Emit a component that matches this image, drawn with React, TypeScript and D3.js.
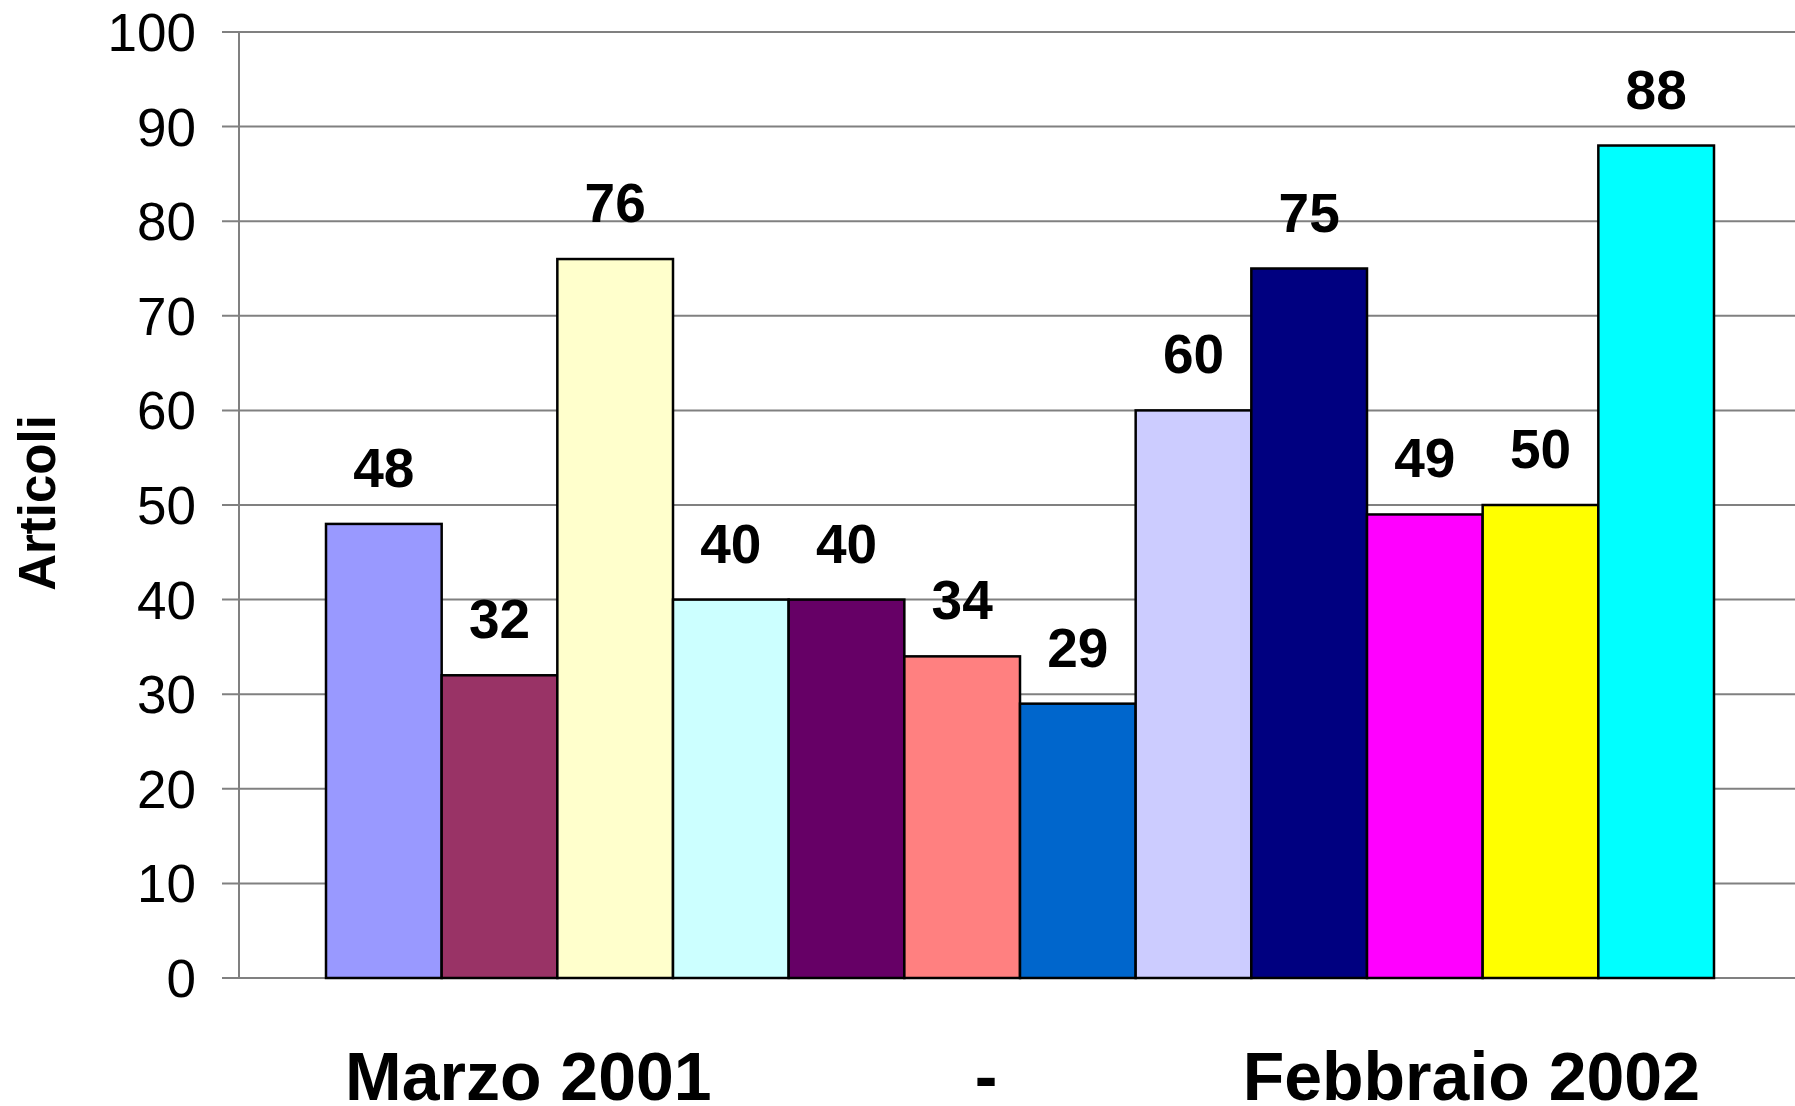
import * as d3 from 'd3';

// one bar per month, Marzo 2001 .. Febbraio 2002
const months = ['Mar', 'Apr', 'Mag', 'Giu', 'Lug', 'Ago', 'Set', 'Ott', 'Nov', 'Dic', 'Gen', 'Feb'];
const articoli = [48, 32, 76, 40, 40, 34, 29, 60, 75, 49, 50, 88];
const barColors = [
  '#9999FF', '#993366', '#FFFFCC', '#CCFFFF', '#660066', '#FF8080',
  '#0066CC', '#CCCCFF', '#000080', '#FF00FF', '#FFFF00', '#00FFFF',
];
const yTicks = [0, 10, 20, 30, 40, 50, 60, 70, 80, 90, 100];
const periodLabels = ['Marzo 2001', '-', 'Febbraio 2002'];

const W = 1795;
const H = 1106;
const axisX = 239;
const font = '"Liberation Sans", Arial, sans-serif';

const App = () => {
  const yScale = d3.scaleLinear().domain([0, 100]).range([978, 32]);
  const xScale = d3.scaleBand<string>().domain(months).range([326, 1714]).padding(0);

  const grid = yTicks.map((t) => (
    <g key={t}>
      <line x1={222} x2={W} y1={yScale(t)} y2={yScale(t)} stroke='#808080' strokeWidth={2} />
      <text
        x={196}
        y={yScale(t)}
        dy='0.36em'
        textAnchor='end'
        fontSize={53}
        fontFamily={font}
        fill='#000'
      >
        {t}
      </text>
    </g>
  ));

  const bars = months.map((m, i) => {
    const x = xScale(m) as number;
    const y = yScale(articoli[i]);
    return (
      <g key={m}>
        <rect
          x={x}
          y={y}
          width={xScale.bandwidth()}
          height={yScale(0) - y}
          fill={barColors[i]}
          stroke='#000'
          strokeWidth={2.5}
        />
        <text
          x={x + xScale.bandwidth() / 2}
          y={y - 37}
          textAnchor='middle'
          fontSize={55}
          fontWeight='bold'
          fontFamily={font}
          fill='#000'
        >
          {articoli[i]}
        </text>
      </g>
    );
  });

  return (
    <svg
      width={W}
      height={H}
      style={{ position: 'absolute', left: 0, top: 0, background: '#fff' }}
    >
      <rect x={0} y={0} width={W} height={H} fill='#fff' />
      {grid}
      <line x1={axisX} x2={axisX} y1={yScale(100)} y2={yScale(0)} stroke='#808080' strokeWidth={2} />
      {bars}
      <text
        transform={`translate(55, 503) rotate(-90)`}
        textAnchor='middle'
        fontSize={51}
        fontWeight='bold'
        fontFamily={font}
        fill='#000'
      >
        Articoli
      </text>
      <text x={345} y={1100} fontSize={68} fontWeight='bold' fontFamily={font} fill='#000'>
        {periodLabels[0]}
      </text>
      <text x={986} y={1100} textAnchor='middle' fontSize={68} fontWeight='bold' fontFamily={font} fill='#000'>
        {periodLabels[1]}
      </text>
      <text x={1700} y={1100} textAnchor='end' fontSize={68} fontWeight='bold' fontFamily={font} fill='#000'>
        {periodLabels[2]}
      </text>
    </svg>
  );
};

export default App;
